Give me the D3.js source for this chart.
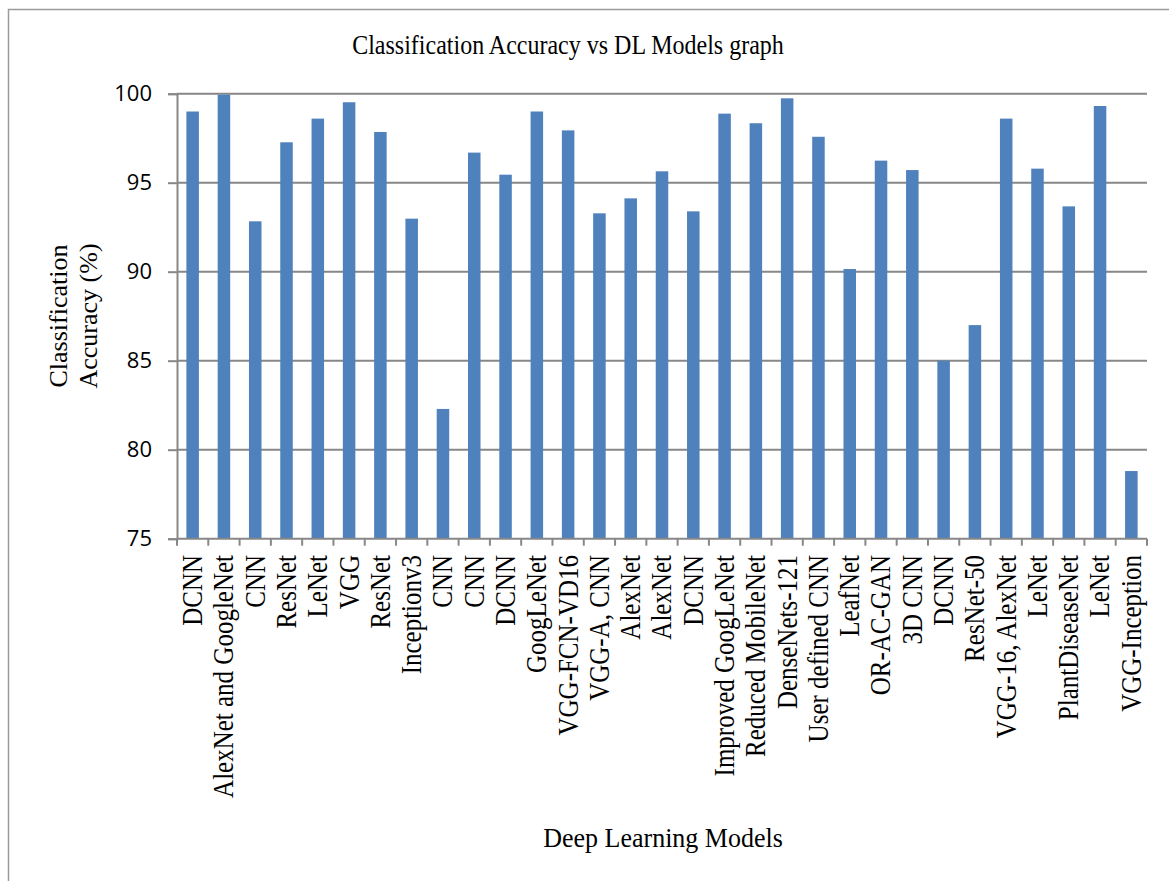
<!DOCTYPE html>
<html>
<head>
<meta charset="utf-8">
<script src="https://cdn.jsdelivr.net/npm/d3@7"></script>
<style>
  html, body { margin: 0; padding: 0; background: #fff; }
  svg { display: block; }
</style>
</head>
<body>
<svg id="chart" width="1169" height="881"></svg>
<script>
const categories = [
  "DCNN", "AlexNet and GoogleNet", "CNN", "ResNet", "LeNet", "VGG", "ResNet",
  "Inceptionv3", "CNN", "CNN", "DCNN", "GoogLeNet", "VGG-FCN-VD16", "VGG-A, CNN",
  "AlexNet", "AlexNet", "DCNN", "Improved GoogLeNet", "Reduced MobileNet",
  "DenseNets-121", "User defined CNN", "LeafNet", "OR-AC-GAN", "3D CNN", "DCNN",
  "ResNet-50", "VGG-16, AlexNet", "LeNet", "PlantDiseaseNet", "LeNet", "VGG-Inception"
];
const accuracy = [
  99.0, 99.95, 92.83, 97.27, 98.6, 99.52, 97.85,
  92.98, 82.29, 96.69, 95.45, 99.0, 97.94, 93.28,
  94.12, 95.64, 93.39, 98.88, 98.34,
  99.74, 97.58, 90.15, 96.24, 95.71, 85.0,
  87.0, 98.6, 95.79, 93.67, 99.31, 78.8
];
const yTicks = [75, 80, 85, 90, 95, 100];
const chartTitle = "Classification Accuracy vs DL Models graph";
const xTitle = "Deep Learning Models";
const yTitleLines = ["Classification", "Accuracy (%)"];

(function () {
const svg = d3.select("#chart");
const pLeft = 177, pRight = 1147, pTop = 93.7, pBottom = 538.7;
const gridColor = "#878787";
const serif = "'Liberation Serif', 'Times New Roman', serif";

// outer border
svg.append("rect")
  .attr("x", 8.5).attr("y", 9.5).attr("width", 1300).attr("height", 1000)
  .attr("fill", "none").attr("stroke", "#9a9a9a").attr("stroke-width", 1.5);

const x = d3.scaleBand()
  .domain(d3.range(categories.length))
  .range([pLeft, pRight])
  .paddingInner(0.6)
  .paddingOuter(0.3);

const y = d3.scaleLinear().domain([75, 100]).range([pBottom, pTop]);

// gridlines
svg.append("g")
  .selectAll("line")
  .data(yTicks.filter(d => d > 75))
  .join("line")
  .attr("x1", pLeft).attr("x2", pRight)
  .attr("y1", d => y(d)).attr("y2", d => y(d))
  .attr("stroke", gridColor).attr("stroke-width", 2);

// y axis
const yAxis = d3.axisLeft(y).tickValues(yTicks).tickSize(9).tickPadding(16).tickFormat(d3.format("d"));
const gy = svg.append("g").attr("transform", `translate(${pLeft},0)`).call(yAxis);
gy.select(".domain").attr("stroke", gridColor).attr("stroke-width", 2);
gy.selectAll(".tick line").attr("stroke", gridColor).attr("stroke-width", 2);
gy.selectAll(".tick text")
  .attr("font-family", "'Open Sans', sans-serif")
  .attr("font-size", 22)
  .attr("fill", "#000");

// bars
svg.append("g")
  .selectAll("rect")
  .data(accuracy)
  .join("rect")
  .attr("x", (d, i) => x(i))
  .attr("width", x.bandwidth())
  .attr("y", d => y(d))
  .attr("height", d => y(75) - y(d))
  .attr("fill", "#4F81BD");

// x axis line
svg.append("line")
  .attr("x1", pLeft).attr("x2", pRight)
  .attr("y1", pBottom).attr("y2", pBottom)
  .attr("stroke", gridColor).attr("stroke-width", 2);

// x ticks at category boundaries
const step = x.step();
svg.append("g")
  .selectAll("line")
  .data(d3.range(categories.length + 1))
  .join("line")
  .attr("x1", i => pLeft + i * step).attr("x2", i => pLeft + i * step)
  .attr("y1", pBottom).attr("y2", pBottom + 7)
  .attr("stroke", gridColor).attr("stroke-width", 2);

// category labels
svg.append("g")
  .selectAll("text")
  .data(categories)
  .join("text")
  .attr("transform", (d, i) => `translate(${x(i) + x.bandwidth() / 2},555) rotate(-90) scale(1,1.14)`)
  .attr("text-anchor", "end")
  .attr("dy", "0.33em")
  .attr("font-family", serif)
  .attr("font-size", 25)
  .attr("fill", "#000")
  .text(d => d);

// title
svg.append("text")
  .attr("transform", "translate(568,54) scale(1,1.15)")
  .attr("text-anchor", "middle")
  .attr("font-family", serif)
  .attr("font-size", 24)
  .attr("fill", "#000")
  .text(chartTitle);

// x title
svg.append("text")
  .attr("transform", "translate(663,847) scale(1,1.08)")
  .attr("text-anchor", "middle")
  .attr("font-family", serif)
  .attr("font-size", 26)
  .attr("fill", "#000")
  .text(xTitle);

// y title (two lines)
svg.append("g")
  .selectAll("text")
  .data(yTitleLines)
  .join("text")
  .attr("transform", (d, i) => `translate(${67 + i * 30},316) rotate(-90)`)
  .attr("text-anchor", "middle")
  .attr("font-family", serif)
  .attr("font-size", 26)
  .attr("fill", "#000")
  .text(d => d);
})();
</script>
</body>
</html>
